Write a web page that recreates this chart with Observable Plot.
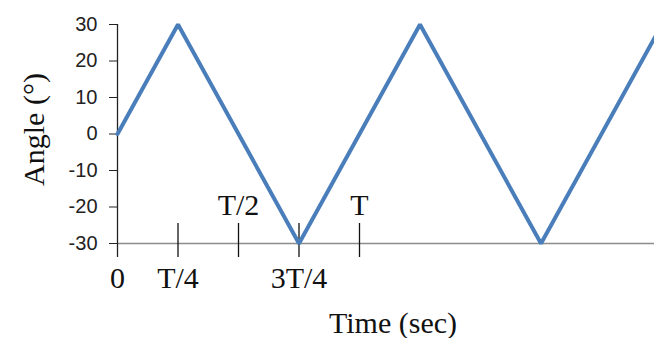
<!DOCTYPE html>
<html><head><meta charset="utf-8">
<script src="https://cdn.jsdelivr.net/npm/d3@7"></script>
<script src="https://cdn.jsdelivr.net/npm/@observablehq/plot@0.6"></script>
<style>body{margin:0;background:#fff}</style>
</head><body><div id="chart"></div>
<script>
// Time in units of the period T, angle in degrees
const timeT = [0, 0.25, 0.75, 1.25, 1.75, 2.25];
const angle = [0, 30, -30, 30, -30, 30];
const yTicks = [-30, -20, -10, 0, 10, 20, 30];
const xTickValues = [0, 0.25, 0.5, 0.75, 1];
const xTickLabels = ["0", "T/4", "T/2", "3T/4", "T"];
const labelsAbove = ["T/2", "T"];
const xTitle = "Time (sec)";
const yTitle = "Angle (°)";

const wave = timeT.map((t, i) => ({t, a: angle[i]}));
const ticks = xTickValues.map((v, i) => ({v, label: xTickLabels[i], above: labelsAbove.includes(xTickLabels[i])}));
const font = "'Liberation Serif','Times New Roman',serif";
const sans = "'Liberation Sans',Arial,sans-serif";

const plot = Plot.plot({
  width: 654, height: 338,
  marginLeft: 117, marginRight: 0, marginTop: 24, marginBottom: 95,
  style: {fontFamily: font, background: "#fff", color: "#111"},
  x: {domain: [0, 2.219], axis: null},
  y: {domain: [-30, 30], axis: null},
  marks: [
    Plot.ruleY([-30], {stroke: "#8c8c8c", strokeWidth: 1.3}),
    Plot.ruleX(ticks.filter(d => d.v !== 0), {x: "v", y1: -30, y2: -30, insetTop: -20, insetBottom: -14, stroke: "#111", strokeWidth: 1.3}),
    Plot.ruleX([0], {y1: 30, y2: -30, insetBottom: -14, stroke: "#222", strokeWidth: 1.3}),
    Plot.axisY(yTicks, {tickSize: 8, tickPadding: 12, fontSize: 20, fontFamily: sans, color: "#222", label: null, tickFormat: d => String(d)}),
    Plot.line(wave, {x: "t", y: "a", stroke: "#4a7ebb", strokeWidth: 4, strokeLinejoin: "miter"}),
    Plot.text(ticks.filter(d => !d.above), {x: "v", y: -30, text: "label", dy: 35, fontSize: 30, lineAnchor: "middle", fill: "#111"}),
    Plot.text(ticks.filter(d => d.above), {x: "v", y: -30, text: "label", dy: -38, fontSize: 30, lineAnchor: "middle", fill: "#111"}),
    Plot.text([xTitle], {frameAnchor: "bottom", textAnchor: "middle", lineAnchor: "middle", dx: 7, dy: 80, fontSize: 30, fill: "#111"}),
    Plot.text([yTitle], {frameAnchor: "left", textAnchor: "middle", lineAnchor: "middle", rotate: -90, dx: -83, dy: -4.5, fontSize: 30, fill: "#111"})
  ]
});
document.getElementById("chart").appendChild(plot);
</script>
</body></html>
